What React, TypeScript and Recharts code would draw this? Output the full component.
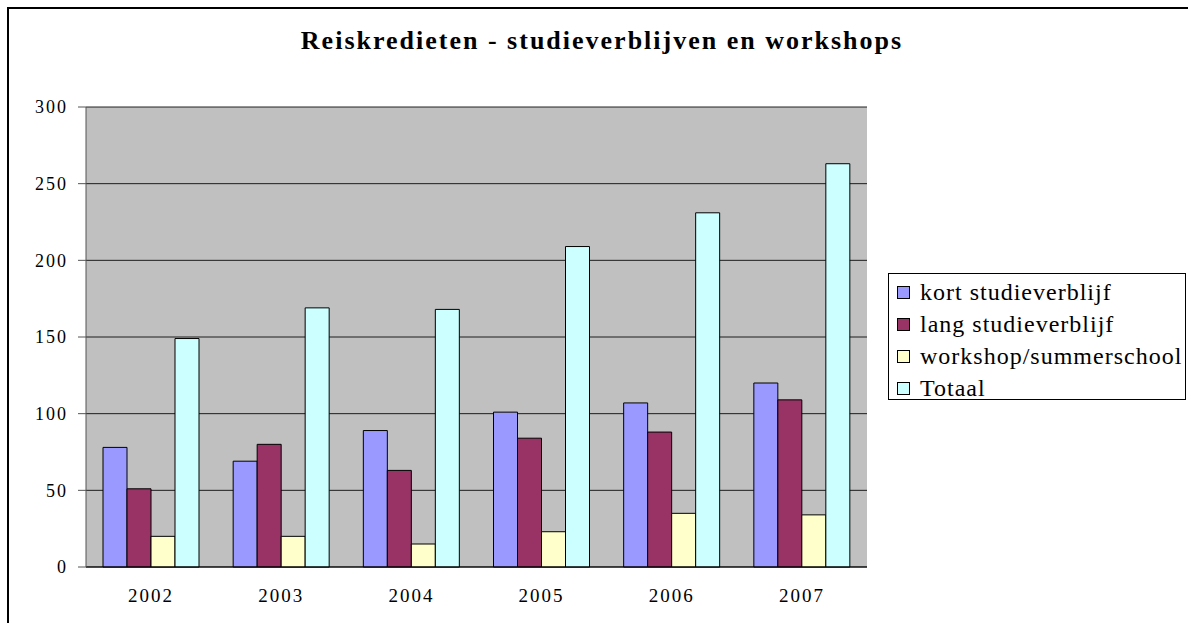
import React from "react";
import { BarChart, Bar, XAxis, YAxis, CartesianGrid, Legend } from "recharts";

// jaren en waarden
const years = ["2002", "2003", "2004", "2005", "2006", "2007"];
const kort = [78, 69, 89, 101, 107, 120];
const lang = [51, 80, 63, 84, 88, 109];
const workshop = [20, 20, 15, 23, 35, 34];
const totaal = [149, 169, 168, 209, 231, 263];
const yTicks = [0, 50, 100, 150, 200, 250, 300];

const SERIES = [
  { key: "kort", name: "kort studieverblijf", color: "#9999FF" },
  { key: "lang", name: "lang studieverblijf", color: "#993366" },
  { key: "workshop", name: "workshop/summerschool", color: "#FFFFCC" },
  { key: "totaal", name: "Totaal", color: "#CCFFFF" },
];

const data = years.map((jaar, i) => ({
  jaar,
  kort: kort[i],
  lang: lang[i],
  workshop: workshop[i],
  totaal: totaal[i],
}));

// grenzen tussen de categorieën, voor de streepjes op de x-as
const boundaryTicks = [...years.map((_, i) => i), years.length];

const FONT = '"Liberation Serif", "Times New Roman", serif';

const LegendBox = () => (
  <div
    style={{
      boxSizing: "border-box",
      width: 298,
      height: 127,
      border: "1px solid #000",
      background: "#fff",
      paddingTop: 2,
      fontFamily: FONT,
      fontSize: 24,
      letterSpacing: 1,
      color: "#000",
      overflow: "hidden",
    }}
  >
    {SERIES.map((s) => (
      <div key={s.key} style={{ display: "flex", alignItems: "center", height: 32, paddingLeft: 8 }}>
        <span
          style={{
            display: "inline-block",
            flexShrink: 0,
            boxSizing: "border-box",
            width: 13,
            height: 13,
            border: "1.5px solid #000",
            background: s.color,
            marginRight: 10,
          }}
        />
        <span style={{ whiteSpace: "nowrap", fontFamily: FONT }}>{s.name}</span>
      </div>
    ))}
  </div>
);

export default function App() {
  return (
    <div
      style={{
        position: "fixed",
        left: 0,
        top: 0,
        width: 1188,
        height: 623,
        overflow: "hidden",
        background: "#fff",
      }}
    >
      {/* rand van het grafiekvlak */}
      <div
        style={{
          position: "absolute",
          left: 7,
          top: 7,
          width: 1200,
          height: 640,
          borderLeft: "2px solid #000",
          borderTop: "2px solid #000",
        }}
      />
      <div
        style={{
          position: "absolute",
          left: 0,
          top: 28,
          width: 1204,
          textAlign: "center",
          fontFamily: FONT,
          fontWeight: "bold",
          fontSize: 26,
          lineHeight: "26px",
          letterSpacing: 2,
          color: "#000",
        }}
      >
        Reiskredieten - studieverblijven en workshops
      </div>
      <div style={{ position: "absolute", left: 0, top: 0 }}>
        <BarChart
          width={1188}
          height={623}
          data={data}
          margin={{ top: 107, right: 321, bottom: 26, left: 26 }}
          barCategoryGap={17}
          barGap={0}
        >
          <CartesianGrid
            xAxisId="cat"
            yAxisId="left"
            vertical={false}
            fill="#C0C0C0"
            stroke="#000"
            strokeOpacity={0.85}
          />
          <XAxis
            xAxisId="bounds"
            type="number"
            domain={[0, years.length]}
            ticks={boundaryTicks}
            allowDataOverflow
            height={0}
            axisLine={false}
            tickSize={6}
            tickLine={{ stroke: "#333" }}
            tickFormatter={() => ""}
          />
          <XAxis
            xAxisId="cat"
            dataKey="jaar"
            height={30}
            axisLine={{ stroke: "#000" }}
            tickLine={false}
            tickSize={6}
            tickMargin={16}
            tick={{ fill: "#000", fontFamily: FONT, fontSize: 19, letterSpacing: 2 }}
          />
          <XAxis
            xAxisId="top"
            dataKey="jaar"
            orientation="top"
            height={0}
            axisLine={{ stroke: "#808080" }}
            tick={false}
            tickLine={false}
          />
          <YAxis
            yAxisId="left"
            width={60}
            domain={[0, 300]}
            ticks={yTicks}
            interval={0}
            axisLine={{ stroke: "#555" }}
            tickLine={{ stroke: "#555" }}
            tickSize={8}
            tickMargin={10}
            tick={{ fill: "#000", fontFamily: FONT, fontSize: 18, letterSpacing: 2 }}
          />
          <YAxis
            yAxisId="right"
            orientation="right"
            width={0}
            domain={[0, 300]}
            axisLine={{ stroke: "#808080" }}
            tick={false}
            tickLine={false}
          />
          <Legend
            layout="vertical"
            align="center"
            verticalAlign="middle"
            wrapperStyle={{ left: 888, top: 273, width: 298, height: 127 }}
            content={() => <LegendBox />}
          />
          {SERIES.map((s) => (
            <Bar
              key={s.key}
              xAxisId="cat"
              yAxisId="left"
              dataKey={s.key}
              name={s.name}
              fill={s.color}
              stroke="#000"
              strokeWidth={1}
              isAnimationActive={false}
            />
          ))}
        </BarChart>
      </div>
    </div>
  );
}
